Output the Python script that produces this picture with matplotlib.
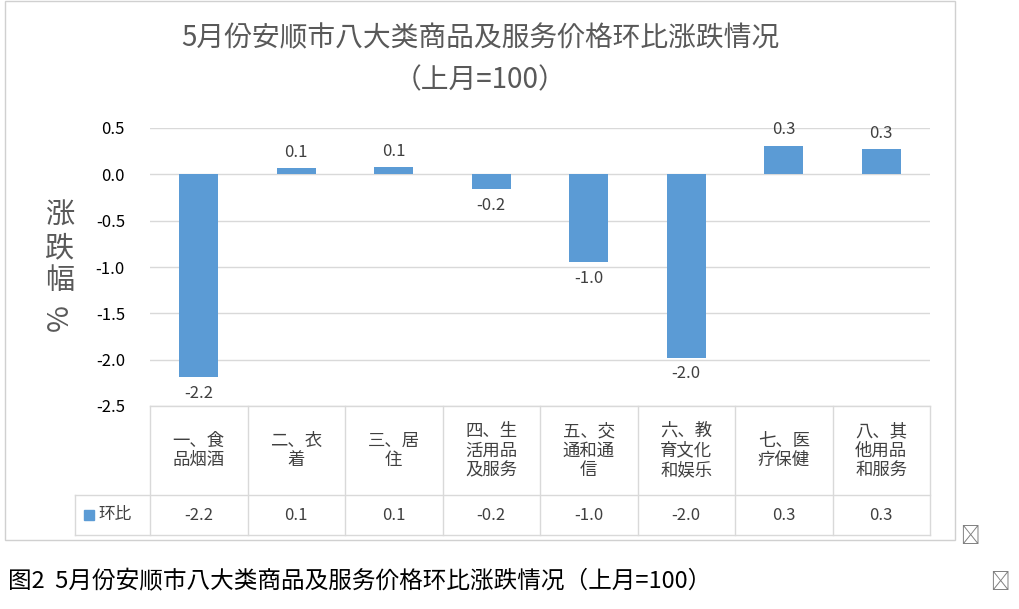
import matplotlib.pyplot as plt
from matplotlib.patches import Rectangle
from matplotlib.lines import Line2D

plt.rcParams['font.family'] = 'sans-serif'
plt.rcParams['font.sans-serif'] = ['Noto Sans CJK SC', 'Noto Sans CJK JP', 'Noto Sans CJK TC', 'DejaVu Sans']

categories = ['一、食\n品烟酒', '二、衣\n着', '三、居\n住', '四、生\n活用品\n及服务',
              '五、交\n通和通\n信', '六、教\n育文化\n和娱乐', '七、医\n疗保健', '八、其\n他用品\n和服务']
values = [-2.19, 0.065, 0.076, -0.16, -0.95, -1.98, 0.31, 0.27]
labels = ['-2.2', '0.1', '0.1', '-0.2', '-1.0', '-2.0', '0.3', '0.3']
yticks = [0.5, 0.0, -0.5, -1.0, -1.5, -2.0, -2.5]

W, H = 1019, 609
fig = plt.figure(figsize=(W / 100, H / 100), dpi=100)
blue = '#5B9BD5'
grid = '#D9D9D9'

# outer chart frame
fig.patches.append(Rectangle((5 / W, 1 - 540 / H), 950 / W, 539 / H, transform=fig.transFigure,
                             fill=False, ec='#D0D0D0', lw=1))

ax = fig.add_axes([150 / W, 1 - 406 / H, 780 / W, 278 / H])
x = range(len(values))
ax.bar(x, values, width=0.4, color=blue)
ax.set_xlim(-0.5, len(values) - 0.5)
ax.set_ylim(-2.5, 0.5)
ax.set_yticks(yticks)
ax.set_yticklabels([f'{t:.1f}' for t in yticks], fontsize=12)
ax.tick_params(length=0, pad=18)
ax.set_xticks([])
ax.yaxis.grid(True, color=grid, lw=1)
ax.set_axisbelow(True)
for s in ax.spines.values():
    s.set_visible(False)
for i, (v, l) in enumerate(zip(values, labels)):
    ax.text(i, v + (0.08 if v >= 0 else -0.08), l, ha='center',
            va='bottom' if v >= 0 else 'top', fontsize=12, color='#404040')

# data table below the axes
tr = ax.transAxes
n = len(values)
r1, r2 = -89 / 278, -129 / 278
lx = -75 / 780
lc = dict(color=grid, lw=1, transform=tr, clip_on=False)
ax.add_line(Line2D([0, 1], [0, 0], **lc))
ax.add_line(Line2D([lx, 1], [r1, r1], **lc))
ax.add_line(Line2D([lx, 1], [r2, r2], **lc))
ax.add_line(Line2D([lx, lx], [r1, r2], **lc))
for k in range(n + 1):
    ax.add_line(Line2D([k / n, k / n], [0, r2], **lc))
for i, (c, l) in enumerate(zip(categories, labels)):
    ax.text((i + 0.5) / n, r1 / 2, c, transform=tr, ha='center', va='center',
            fontsize=12.5, color='#404040', linespacing=1.1)
    ax.text((i + 0.5) / n, (r1 + r2) / 2, l, transform=tr, ha='center', va='center',
            fontsize=12, color='#404040')
ax.add_patch(Rectangle((lx + 0.012, (r1 + r2) / 2 - 0.018), 0.012, 0.036, transform=tr,
                       color=blue, clip_on=False))
ax.text(lx + 0.03, (r1 + r2) / 2, '环比', transform=tr, va='center', fontsize=12, color='#404040')

# title and y label
fig.text(480 / W, 1 - 38 / H, '5月份安顺市八大类商品及服务价格环比涨跌情况', ha='center', va='center',
         fontsize=20, color='#595959')
fig.text(480 / W, 1 - 80 / H, '（上月=100）', ha='center', va='center', fontsize=20, color='#595959')
for j, ch in enumerate('涨跌幅'):
    fig.text(60 / W, 1 - (215 + j * 33) / H, ch, ha='center', va='center', fontsize=21, color='#595959')
fig.text(60 / W, 1 - 318 / H, '%', ha='center', va='center', fontsize=21, color='#595959', rotation=90)
fig.text(960 / W, 1 - 537 / H, '↵', ha='left', va='center', fontsize=14, color='#808080')

# caption
fig.text(8 / W, 1 - 582 / H, '图2  5月份安顺市八大类商品及服务价格环比涨跌情况（上月=100）',
         ha='left', va='center', fontsize=17, color='black')
fig.text(990 / W, 1 - 582 / H, '↵', ha='left', va='center', fontsize=14, color='#808080')

fig.savefig('out.png', dpi=100)
